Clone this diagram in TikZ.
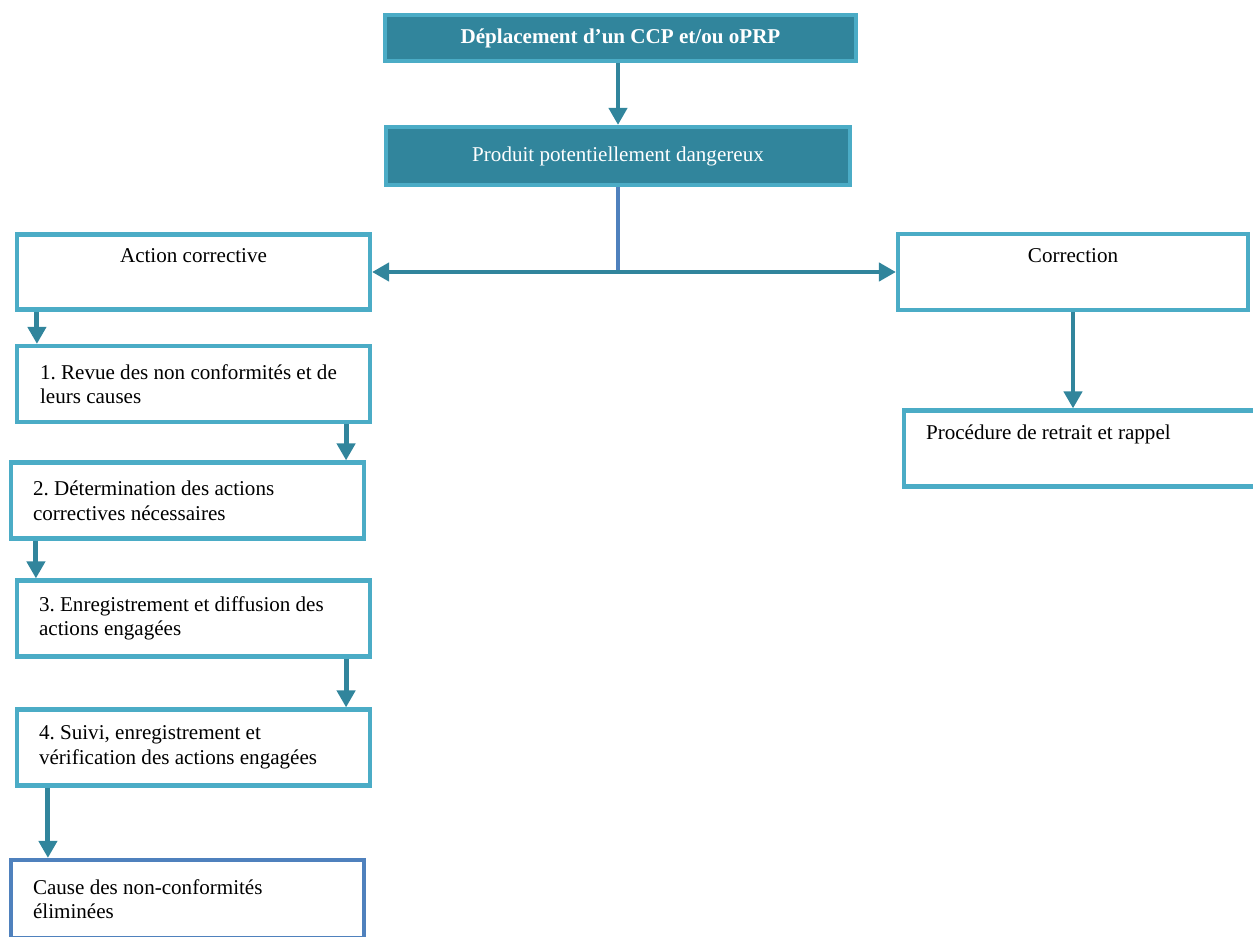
\documentclass[tikz,border=0pt]{standalone}
\usepackage{fontspec}
\setmainfont{Liberation Serif}
\usetikzlibrary{arrows.meta,calc}

\definecolor{fondc}{RGB}{49,133,156}
\definecolor{bordc}{RGB}{75,172,198}
\definecolor{bleuc}{RGB}{79,129,189}

\begin{document}
\begin{tikzpicture}[x=0.02cm, y=-0.02cm,
    >={Triangle[length=0.34cm, width=0.36cm]},
    cadre/.style={draw=bordc, line width=2.4pt, rectangle, fill=white, inner ysep=0pt,
        font=\fontsize{12}{14}\selectfont\frenchspacing},
    plein/.style={cadre, fill=fondc, text=white, align=center},
    etape/.style={cadre, inner xsep=0.1cm, text width=6.86cm, minimum height=1.52cm,
        align=flush left, execute at begin node={\leftskip=#1\relax}},
    fleche/.style={draw=fondc, line width=2.8pt, ->}]
    \useasboundingbox (0,0) rectangle (1253,936);
    \clip (0,0) rectangle (1253,936);

    % boites du haut
    \node[plein, minimum width=9.42cm, minimum height=0.92cm] (depl) at (620.5,38)
        {\bfseries Déplacement d’un CCP et/ou oPRP};
    \node[plein, minimum width=9.28cm, minimum height=1.16cm] (prod) at (618,156)
        {Produit potentiellement dangereux};

    % les deux branches
    \node[cadre, minimum width=7.06cm, minimum height=1.5cm, align=center] (act) at (193.5,272)
        {Action corrective\\ \strut};
    \node[cadre, minimum width=7.0cm, minimum height=1.52cm, align=center] (corr) at (1073,272)
        {Correction\\ \strut};

    % etapes de l'action corrective
    \node[etape=0.36cm] (etape1) at (193.5,384)
        {1. Revue des non conformités et de\\ leurs causes};
    \node[etape=0.34cm] (etape2) at (187.5,500.5)
        {2. Détermination des actions\\ correctives nécessaires};
    \node[etape=0.34cm] (etape3) at (193.5,618.5)
        {3. Enregistrement et diffusion des\\ actions engagées};
    \node[etape=0.34cm] (etape4) at (193.5,747.5)
        {4. Suivi, enregistrement et\\ vérification des actions engagées};
    \node[etape=0.34cm, draw=bleuc, minimum height=1.56cm] (cause) at (187.5,899)
        {Cause des non-conformités\\ éliminées};

    % branche correction
    \node[etape=0.34cm] (proc) at (1080.5,448.5)
        {Procédure de retrait et rappel\\ \strut};

    % liaisons
    \draw[fleche] (prod.north |- depl.south) -- (prod.north);
    \draw[draw=bleuc, line width=2.8pt] (prod.south) -- (prod.south |- act.east);
    \draw[fleche, <->] (act.east) -- (corr.west);
    \draw[fleche] ($(act.south west)+(22,0)$) coordinate (a1) -- (a1 |- etape1.north);
    \draw[fleche] ($(etape1.south east)+(-26,0)$) coordinate (a2) -- (a2 |- etape2.north);
    \draw[fleche] ($(etape2.south west)+(27,0)$) coordinate (a3) -- (a3 |- etape3.north);
    \draw[fleche] ($(etape3.south east)+(-26,0)$) coordinate (a4) -- (a4 |- etape4.north);
    \draw[fleche] ($(etape4.south west)+(33,0)$) coordinate (a5) -- (a5 |- cause.north);
    \draw[fleche] (corr.south) -- (corr.south |- proc.north);
\end{tikzpicture}
\end{document}
